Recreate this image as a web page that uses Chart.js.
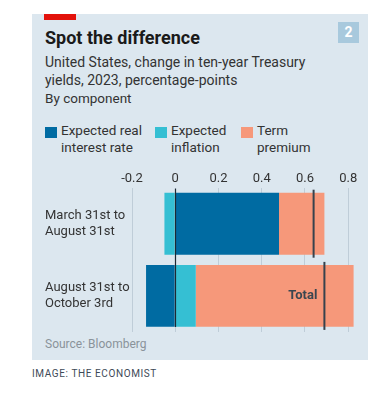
<!DOCTYPE html>
<html>
<head>
<meta charset="utf-8">
<script src="https://cdn.jsdelivr.net/npm/chart.js@4"></script>
<style>
  body { margin: 0; background: #fff; font-family: Roboto, "Noto Sans", sans-serif; }
  .panel { position: absolute; left: 32px; top: 14px; width: 336px; height: 346px; background: #dce7ef; }
  .redbar { position: absolute; left: 44px; top: 14px; width: 32px; height: 6px; background: #e3120b; }
  .title { position: absolute; left: 45px; top: 27px; font-size: 18px; font-weight: 700; color: #1a1a1a; }
  .sub { position: absolute; left: 45px; top: 53px; font-size: 14px; line-height: 18px; color: #333; }
  .bycomp { position: absolute; left: 45px; top: 90px; font-size: 13.5px; color: #333; }
  .num { position: absolute; left: 338px; top: 22px; width: 21px; height: 21px; background: #a8c9dd; color: #fff;
         font-weight: 700; font-size: 14px; text-align: center; line-height: 21px; }
  .leg { position: absolute; top: 122px; font-size: 13.5px; line-height: 17px; color: #333; }
  .leg i { position: absolute; left: -16px; top: 5px; width: 12px; height: 11px; }
  .source { position: absolute; left: 45px; top: 337px; font-size: 12px; color: #8a939a; }
  .credit { position: absolute; left: 32px; top: 368px; font-size: 10px; letter-spacing: 0.6px; color: #3e4a57; }
  #wrap { position: absolute; left: 32px; top: 160px; width: 336px; height: 180px; }
</style>
</head>
<body>
<div class="panel"></div>
<div class="redbar"></div>
<div class="title">Spot the difference</div>
<div class="sub">United States, change in ten-year Treasury<br>yields, 2023, percentage-points</div>
<div class="bycomp">By component</div>
<div class="num">2</div>
<div class="leg" style="left:61px"><i style="background:#006ba2"></i>Expected real<br>interest rate</div>
<div class="leg" style="left:171px"><i style="background:#35bfd3"></i>Expected<br>inflation</div>
<div class="leg" style="left:257px"><i style="background:#f6987a"></i>Term<br>premium</div>
<div class="source">Source: Bloomberg</div>
<div class="credit">IMAGE: THE ECONOMIST</div>
<div id="wrap"><canvas id="c"></canvas></div>
<script>
const periods = [["March 31st to", "August 31st"], ["August 31st to", "October 3rd"]];
const realRate = [0.48, -0.135];
const inflation = [-0.05, 0.095];
const termPremium = [0.21, 0.73];
const totals = [0.64, 0.69];
const xTicks = [-0.2, 0, 0.2, 0.4, 0.6, 0.8];

const totalMarks = {
  id: "totalMarks",
  afterDatasetsDraw(chart) {
    const { ctx, scales: { x, y }, chartArea } = chart;
    ctx.save();
    // zero line over the bars
    const x0 = Math.round(x.getPixelForValue(0)) + 0.5;
    ctx.strokeStyle = "#1c2833";
    ctx.lineWidth = 1.2;
    ctx.beginPath();
    ctx.moveTo(x0, chartArea.top + 1);
    ctx.lineTo(x0, chartArea.bottom - 5);
    ctx.stroke();
    // total markers
    ctx.strokeStyle = "#36424d";
    ctx.lineWidth = 2;
    totals.forEach((t, i) => {
      const px = x.getPixelForValue(t);
      const py = y.getPixelForValue(i);
      ctx.beginPath();
      ctx.moveTo(px, py - 34);
      ctx.lineTo(px, py + 34);
      ctx.stroke();
    });
    // label on the last one
    const last = totals.length - 1;
    ctx.fillStyle = "#3a4650";
    ctx.font = "bold 13px Roboto";
    ctx.textAlign = "right";
    ctx.textBaseline = "middle";
    ctx.fillText("Total", x.getPixelForValue(totals[last]) - 7, y.getPixelForValue(last));
    ctx.restore();
  }
};

new Chart(document.getElementById("c"), {
  type: "bar",
  data: {
    labels: periods,
    datasets: [
      { label: "Expected real interest rate", data: realRate, backgroundColor: "#006ba2" },
      { label: "Expected inflation", data: inflation, backgroundColor: "#35bfd3" },
      { label: "Term premium", data: termPremium, backgroundColor: "#f6987a" },
    ],
  },
  options: {
    indexAxis: "y",
    responsive: true,
    maintainAspectRatio: false,
    animation: false,
    layout: { padding: { left: 13, top: 10, right: 9, bottom: 8 } },
    datasets: { bar: { barPercentage: 0.857, categoryPercentage: 1 } },
    scales: {
      x: {
        position: "top",
        stacked: true,
        min: -0.2,
        max: 0.85,
        afterBuildTicks: (s) => { s.ticks = xTicks.map((v) => ({ value: v })); },
        ticks: {
          padding: 1,
          color: "#333",
          font: { family: "Roboto", size: 13 },
          callback: (v) => (Math.abs(v) < 1e-9 ? "0" : v.toFixed(1)),
        },
        grid: { color: "#bfcdd8", drawTicks: false },
        border: { display: false },
      },
      y: {
        stacked: true,
        afterFit: (s) => { s.width = 87; s.paddingTop = 0; s.paddingBottom = 0; },
        ticks: {
          crossAlign: "far",
          color: "#333",
          font: { family: "Roboto", size: 13 },
        },
        grid: { display: false },
        border: { display: false },
      },
    },
    plugins: {
      legend: { display: false },
      tooltip: { enabled: false },
    },
  },
  plugins: [totalMarks],
});
</script>
</body>
</html>
